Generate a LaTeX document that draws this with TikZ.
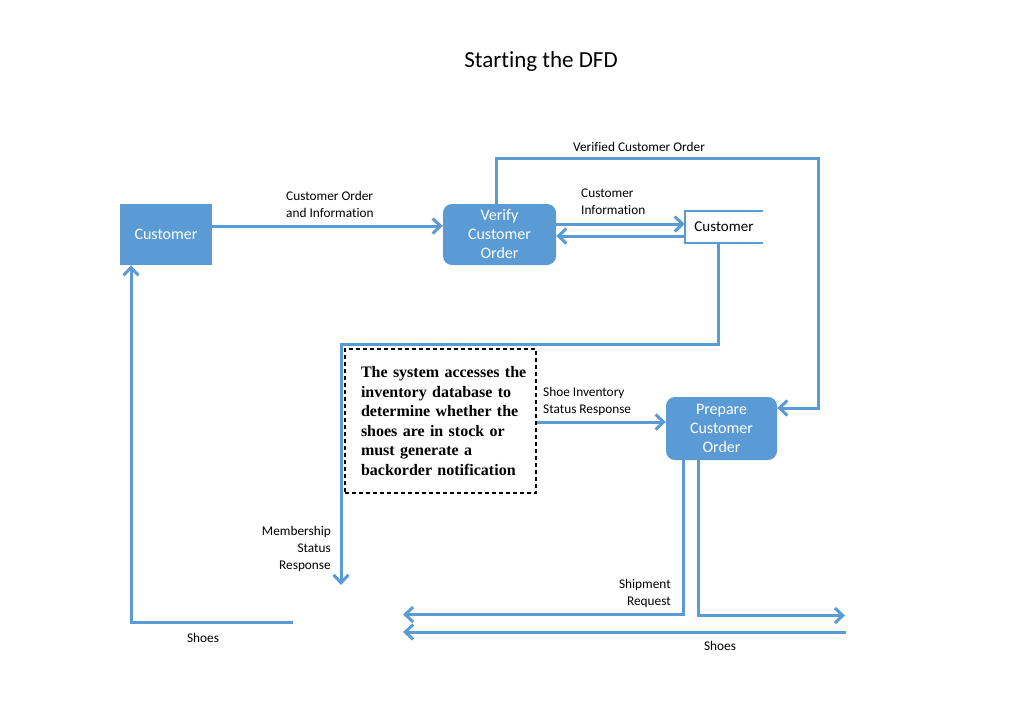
\documentclass[tikz,border=0pt]{standalone}
\usepackage{fontspec}
\setmainfont{Carlito}[Ligatures=NoCommon]
\newfontfamily\notefont{Liberation Serif}
\usetikzlibrary{positioning,arrows.meta}
\definecolor{dfdblue}{HTML}{5B9BD5}

\begin{document}
\begin{tikzpicture}[x=1pt, y=-1pt,
    every node/.style={font=\fontsize{13.3}{17}\selectfont, inner sep=0pt},
    ext/.style={fill=dfdblue, text=white, minimum width=92pt, minimum height=61pt,
      font=\fontsize{16}{19}\selectfont},
    proc/.style={ext, rounded corners=9pt, align=center},
    flow/.style={draw=dfdblue, line width=3pt, -{Straight Barb[length=8pt,width=15pt]}}]
  \useasboundingbox (0,0) rectangle (1014,718);
  \node (title) at (541,61) {\fontsize{23}{27}\selectfont Starting the DFD};

  % entities, processes, store
  \node[ext] (cust) at (166,234.5) {Customer};
  \node[proc, minimum width=113pt] (verify) at (499.5,234.5) {Verify\\Customer\\Order};
  \node[proc, minimum width=111pt, minimum height=63pt] (prep) at (721.5,428.5) {Prepare\\Customer\\Order};
  \node[minimum width=78pt, minimum height=32pt, font=\fontsize{15}{18}\selectfont] (store) at (724,227) {\raisebox{1.5pt}{Customer}};
  \draw[dfdblue, line width=1.5pt] (store.north east) -- (store.north west) -- (store.south west) -- (store.south east);
  \node[draw, dash pattern=on 4pt off 3pt, line width=1.2pt, minimum width=191pt, minimum height=144pt,
    text width=183pt, align=left, font=\notefont\bfseries\fontsize{16}{19.6}\selectfont] (note) at (440.5,421)
    {\leftskip=12pt The system accesses the\\inventory database to\\determine whether the\\shoes are in stock or\\must generate a\\backorder notification\par};

  % rows and bends
  \coordinate (rowA) at (0,224);
  \coordinate (rowB) at (0,236);
  \coordinate (rowI) at (0,422);
  \coordinate (topR) at (818,158);
  \coordinate (bendM) at (341,344);
  \coordinate (memEnd) at (341,585);
  \coordinate (shipEnd) at (403,614.5);
  \coordinate (shoeOut) at (845,615.5);
  \coordinate (shoeIn) at (846,632);
  \coordinate (shoeEnd) at (403,632);
  \coordinate (shoeStart) at (293,622);

  % flows
  \draw[flow] ([yshift=8.5pt]cust.east) -- ([yshift=8.5pt]verify.west);
  \draw[flow] (verify.east |- rowA) -- (store.west |- rowA);
  \draw[flow] (store.west |- rowB) -- (verify.east |- rowB);
  \draw[flow] ([xshift=-3.5pt]verify.north) |- (topR) |- ([yshift=20.5pt]prep.east);
  \draw[flow] ([xshift=-6pt]store.south) |- (bendM) -- (memEnd);
  \draw[flow] (note.east |- rowI) -- (prep.west |- rowI);
  \draw[flow] ([xshift=-38.5pt]prep.south) |- (shipEnd);
  \draw[flow] ([xshift=-23.5pt]prep.south) |- (shoeOut);
  \draw[flow] (shoeIn) -- (shoeEnd);
  \draw[flow] (shoeStart) -| ([xshift=-35pt]cust.south);

  % labels
  \node[anchor=west, align=left] (lblOrder) at (286,204) {Customer Order\\and Information};
  \node (lblVerified) at (639,147) {Verified Customer Order};
  \node[anchor=west, align=left] (lblInfo) at (581,202) {Customer\\Information};
  \node[anchor=east, align=right] (lblMember) at (331,549) {Membership\\Status\\Response};
  \node[anchor=west, align=left] (lblShoeInv) at (543,401) {Shoe Inventory\\Status Response};
  \node[anchor=east, align=right] (lblShip) at (671,593) {Shipment\\Request};
  \node (lblShoesL) at (203,638) {Shoes};
  \node (lblShoesR) at (720,646) {Shoes};
\end{tikzpicture}
\end{document}
